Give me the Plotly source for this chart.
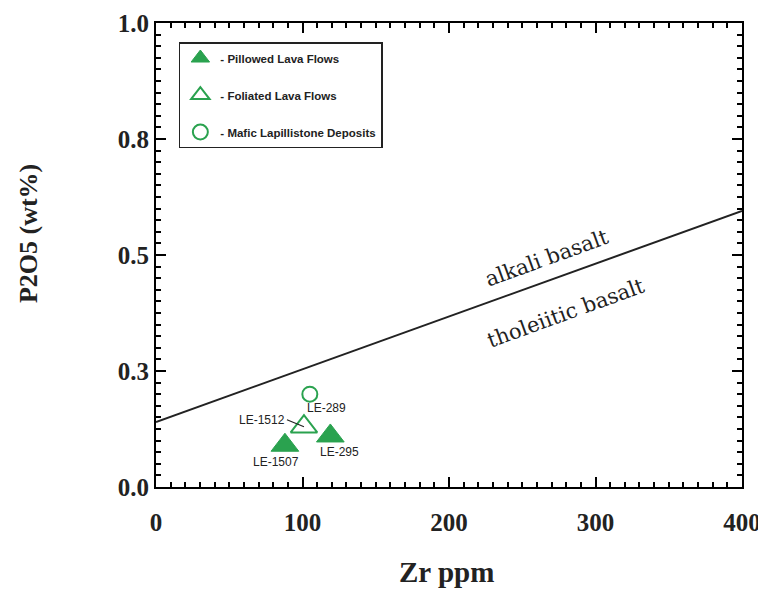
import plotly.graph_objects as go

# Data
pillowed_x = [88, 119]
pillowed_y = [0.09, 0.11]
pillowed_labels = ["LE-1507", "LE-295"]

foliated_x = [101]
foliated_y = [0.13]
foliated_labels = ["LE-1512"]

mafic_x = [105]
mafic_y = [0.20]
mafic_labels = ["LE-289"]

divider_x = [0, 400]
divider_y = [0.14, 0.595]

y_labels = {"0.00": "0.0", "0.25": "0.3", "0.50": "0.5", "0.75": "0.8", "1.00": "1.0"}

GREEN = "#2aa24f"
INK = "#222222"
serif = "Times New Roman, Liberation Serif, Tinos, serif"
sans = "Arial, Liberation Sans, Arimo, sans-serif"

fig = go.Figure()

fig.add_trace(go.Scatter(x=divider_x, y=divider_y, mode="lines",
                         line=dict(color=INK, width=2), showlegend=False,
                         hoverinfo="skip"))

fig.add_trace(go.Scatter(x=pillowed_x, y=pillowed_y, mode="markers",
                         name="- Pillowed Lava Flows", legendgroup="a",
                         marker=dict(symbol="triangle-up", size=24, color=GREEN,
                                     line=dict(color=GREEN, width=1))))
fig.add_trace(go.Scatter(x=foliated_x, y=foliated_y, mode="markers",
                         name="- Foliated Lava Flows", legendgroup="b",
                         marker=dict(symbol="triangle-up-open", size=23, color=GREEN,
                                     line=dict(color=GREEN, width=2))))
fig.add_trace(go.Scatter(x=mafic_x, y=mafic_y, mode="markers",
                         name="- Mafic Lapillistone Deposits", legendgroup="c",
                         marker=dict(symbol="circle-open", size=15, color=GREEN,
                                     line=dict(color=GREEN, width=2))))
# empty traces that carry the minor-tick axes
fig.add_trace(go.Scatter(x=[None], y=[None], xaxis="x3", yaxis="y",
                         showlegend=False, hoverinfo="skip"))
fig.add_trace(go.Scatter(x=[None], y=[None], xaxis="x", yaxis="y3",
                         showlegend=False, hoverinfo="skip"))

annotations = []
lab_font = dict(family=sans, size=12, color=INK)
offsets = {"LE-1507": (-9, 17), "LE-295": (9, 16)}
for x, y, t in zip(pillowed_x, pillowed_y, pillowed_labels):
    dx, dy = offsets[t]
    annotations.append(dict(x=x, y=y, text=t, showarrow=False, xshift=dx, yshift=-dy,
                            font=lab_font))
for x, y, t in zip(mafic_x, mafic_y, mafic_labels):
    annotations.append(dict(x=x, y=y, text=t, showarrow=False, xshift=17, yshift=-14,
                            font=lab_font))
for x, y, t in zip(foliated_x, foliated_y, foliated_labels):
    annotations.append(dict(x=x, y=y, text=t, showarrow=True, arrowhead=0,
                            arrowwidth=1.2, arrowcolor=INK, ax=-17, ay=-7,
                            xanchor="right", font=lab_font, standoff=0))

region_font = dict(family="DejaVu Serif", size=21, color=INK)
annotations.append(dict(x=267, y=0.494, text="alkali basalt", showarrow=False,
                        textangle=-20, font=region_font))
annotations.append(dict(x=280, y=0.376, text="tholeiitic basalt", showarrow=False,
                        textangle=-20, font=region_font))
# axis titles
annotations.append(dict(x=0.495, y=0, xref="paper", yref="paper", text="<b>Zr ppm</b>",
                        showarrow=False, yshift=-85, xanchor="center", yanchor="middle",
                        font=dict(family=serif, size=29, color=INK)))
annotations.append(dict(x=0, y=0.545, xref="paper", yref="paper", text="<b>P2O5 (wt%)</b>",
                        showarrow=False, xshift=-128, xanchor="center", yanchor="middle",
                        textangle=-90, font=dict(family=serif, size=26, color=INK)))

# page body has an 8px margin, so the figure div starts 8px right/down
fig.update_layout(
    width=758, height=584,
    margin=dict(l=148, r=24, t=15, b=105),
    plot_bgcolor="white", paper_bgcolor="white",
    showlegend=True,
    legend=dict(x=0.039, y=0.959, xanchor="left", yanchor="top",
                bordercolor=INK, borderwidth=1.5, bgcolor="white",
                font=dict(family=sans, size=11.5, color=INK, weight="bold"),
                itemsizing="trace", tracegroupgap=18),
    annotations=annotations,
)

tfont = dict(family=serif, size=25, color=INK, weight="bold")
base = dict(showgrid=False, zeroline=False, ticks="inside", tickcolor="black",
            automargin=False)

fig.update_layout(
    xaxis=dict(range=[0, 400], tickmode="linear", tick0=0, dtick=100,
               ticklen=10, tickwidth=2, showline=True, linecolor="black",
               linewidth=2, mirror="ticks", tickfont=tfont, ticklabelstandoff=12,
               **base),
    yaxis=dict(range=[0, 1], tickmode="linear", tick0=0, dtick=0.25, tickformat=".2f",
               labelalias=y_labels, tickfont=tfont, ticklen=10, tickwidth=2,
               showline=True, linecolor="black", linewidth=2, mirror="ticks",
               **base),
    xaxis3=dict(range=[0, 400], overlaying="x", anchor="y", side="bottom",
                tickmode="linear", tick0=0, dtick=10, ticklen=5, tickwidth=2,
                showticklabels=False, showline=False, mirror="ticks", **base),
    yaxis3=dict(range=[0, 1], overlaying="y", anchor="x", side="left",
                tickmode="linear", tick0=0, dtick=0.025, ticklen=5, tickwidth=2,
                showticklabels=False, showline=False, mirror="ticks", **base),
)

fig.write_html("out.html")
